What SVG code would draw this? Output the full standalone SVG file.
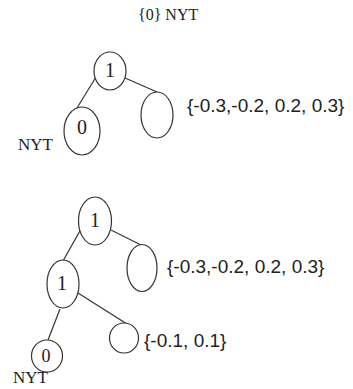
<svg xmlns="http://www.w3.org/2000/svg" width="353" height="389" viewBox="0 0 353 389">
<style>
.n{fill:#fff;stroke:#333;stroke-width:1.2}
.e{stroke:#333;stroke-width:1.2;fill:none}
.s{font-family:"Liberation Serif","Times New Roman",serif;fill:#222}
.a{font-family:"Liberation Sans",Arial,sans-serif;fill:#222;font-size:19px}
</style>
<rect width="353" height="389" fill="#fff"/>
<text class="s" x="138" y="20" font-size="16">{0} NYT</text>
<g id="connectors">
<line class="e" x1="96" y1="77" x2="77" y2="108"/>
<line class="e" x1="125" y1="78" x2="157" y2="92"/>
<line class="e" x1="81" y1="229" x2="63" y2="261"/>
<line class="e" x1="111" y1="230" x2="143" y2="246"/>
<line class="e" x1="78" y1="293" x2="127" y2="324"/>
<line class="e" x1="60" y1="309" x2="48" y2="340"/>
</g>
<g id="t1-root"><ellipse class="n" cx="110" cy="71" rx="16" ry="19"/><text class="s" x="110" y="77" font-size="20" text-anchor="middle">1</text></g>
<g id="t1-nyt"><ellipse class="n" cx="82" cy="131" rx="18" ry="24"/><text class="s" x="82" y="134" font-size="20" text-anchor="middle">0</text><text class="s" x="18" y="150" font-size="17">NYT</text></g>
<g id="t1-right"><ellipse class="n" cx="157" cy="115" rx="16" ry="23"/><text class="a" x="187" y="112">{-0.3,-0.2, 0.2, 0.3}</text></g>
<g id="t2-root"><ellipse class="n" cx="95" cy="221" rx="16.5" ry="24"/><text class="s" x="95" y="227" font-size="20" text-anchor="middle">1</text></g>
<g id="t2-mid"><ellipse class="n" cx="63" cy="284" rx="16" ry="24"/><text class="s" x="62" y="290" font-size="20" text-anchor="middle">1</text></g>
<g id="t2-right"><ellipse class="n" cx="142" cy="268" rx="15" ry="23.5"/><text class="a" x="167" y="273" font-size="20.5">{-0.3,-0.2, 0.2, 0.3}</text></g>
<g id="t2-small"><ellipse class="n" cx="124" cy="338" rx="14.5" ry="15"/><text class="a" x="144" y="347" font-size="19.5">{-0.1, 0.1}</text></g>
<g id="t2-nyt"><ellipse class="n" cx="47" cy="356" rx="15.5" ry="16"/><text class="s" x="46" y="362" font-size="18" text-anchor="middle">0</text><text class="s" x="13" y="383" font-size="17">NYT</text></g>
</svg>
